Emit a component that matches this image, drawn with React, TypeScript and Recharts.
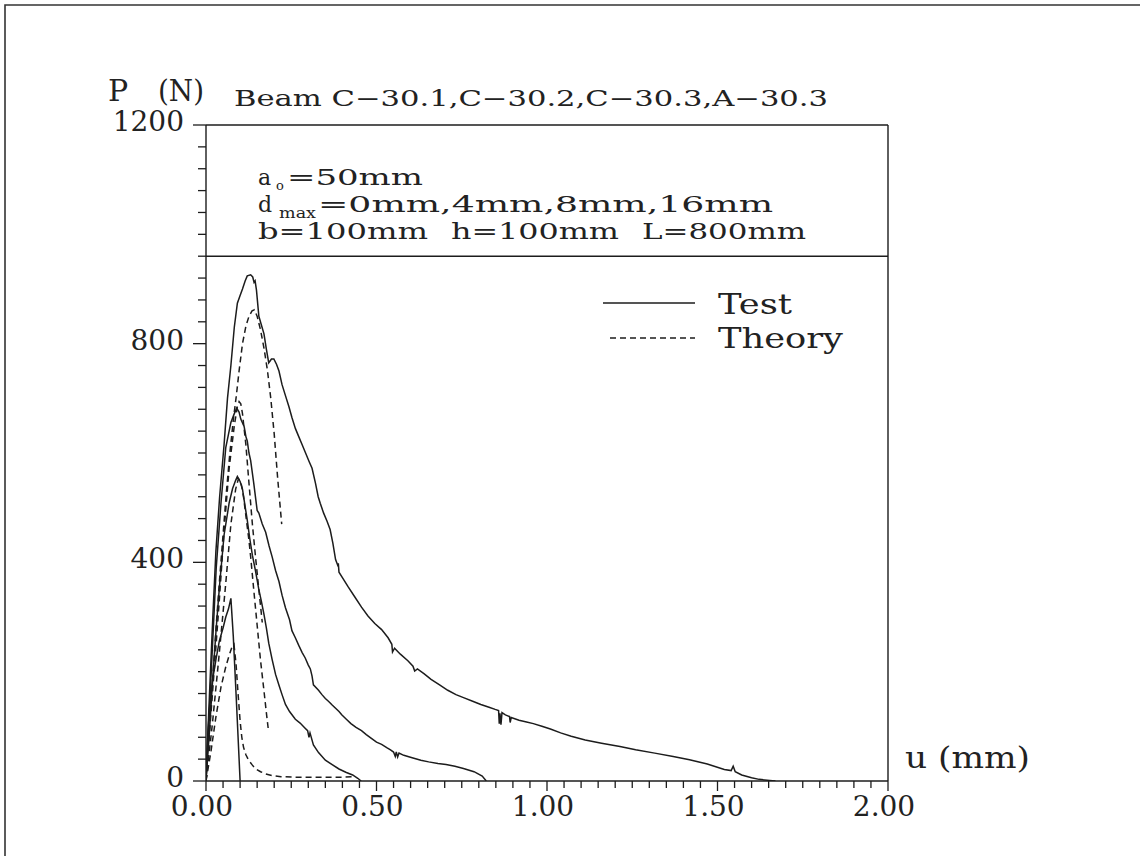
import React from 'react';
import { LineChart, Line, XAxis, YAxis, ReferenceLine } from 'recharts';

// load P (N) against crack mouth displacement u (mm), pairs of [u, P]
const testD16: [number, number][] = [
  [0, 0], [0.005, 80], [0.01, 155], [0.02, 300], [0.029, 420], [0.04, 520], [0.053, 615], [0.063, 700],
  [0.073, 760], [0.083, 830], [0.092, 874], [0.1, 888], [0.107, 900], [0.115, 915], [0.121, 924], [0.131, 926],
  [0.137, 922], [0.141, 912], [0.144, 915], [0.148, 898], [0.155, 850], [0.162, 835], [0.17, 818], [0.177, 790],
  [0.184, 765], [0.192, 772], [0.199, 772], [0.207, 762], [0.214, 750], [0.223, 725], [0.233, 705], [0.243, 685],
  [0.252, 665], [0.262, 645], [0.272, 630], [0.282, 615], [0.292, 600], [0.302, 585], [0.311, 572], [0.321, 545],
  [0.329, 520], [0.335, 508], [0.345, 490], [0.355, 475], [0.364, 460], [0.372, 435], [0.38, 405], [0.386, 395],
  [0.388, 398], [0.39, 382], [0.4, 372], [0.417, 355], [0.436, 337], [0.456, 318], [0.475, 302], [0.495, 288],
  [0.515, 277], [0.534, 262], [0.545, 250], [0.547, 236], [0.553, 243], [0.57, 232], [0.592, 220], [0.607, 210],
  [0.612, 201], [0.62, 205], [0.64, 196], [0.66, 186], [0.685, 176], [0.709, 166], [0.733, 158], [0.757, 152],
  [0.782, 146], [0.806, 140], [0.83, 135], [0.848, 131], [0.858, 129], [0.86, 105], [0.862, 124], [0.865, 103],
  [0.868, 125], [0.878, 121], [0.89, 118], [0.892, 107], [0.895, 116], [0.918, 111], [0.94, 108], [0.96, 105],
  [0.985, 100], [1.01, 95], [1.04, 88], [1.071, 82], [1.112, 75], [1.16, 69], [1.214, 63], [1.26, 57],
  [1.316, 51], [1.37, 45], [1.418, 39], [1.47, 31], [1.52, 21], [1.54, 19], [1.546, 27], [1.552, 17],
  [1.571, 11], [1.6, 6], [1.622, 3], [1.653, 1], [1.67, 0],
];

const testD8: [number, number][] = [
  [0, 0], [0.01, 130], [0.02, 260], [0.03, 390], [0.044, 509], [0.058, 610], [0.073, 656], [0.083, 672],
  [0.09, 682], [0.097, 675], [0.102, 662], [0.112, 648], [0.117, 630], [0.121, 622], [0.126, 600], [0.131, 586],
  [0.14, 545], [0.15, 495], [0.155, 490], [0.165, 470], [0.175, 455], [0.185, 430], [0.194, 410], [0.204, 385],
  [0.214, 365], [0.223, 340], [0.233, 317], [0.245, 295], [0.252, 275], [0.262, 262], [0.272, 248], [0.282, 235],
  [0.291, 225], [0.3, 212], [0.306, 205], [0.311, 192], [0.315, 176], [0.33, 166], [0.34, 158], [0.35, 151],
  [0.359, 146], [0.37, 139], [0.38, 133], [0.39, 127], [0.398, 121], [0.41, 114], [0.425, 105], [0.44, 98],
  [0.456, 92], [0.47, 85], [0.485, 78], [0.5, 71], [0.515, 67], [0.53, 61], [0.541, 57], [0.55, 53],
  [0.555, 45], [0.558, 53], [0.562, 44], [0.566, 51], [0.58, 47], [0.602, 43], [0.63, 38], [0.653, 35],
  [0.68, 32], [0.704, 30], [0.73, 27], [0.755, 23], [0.786, 17], [0.81, 9], [0.822, 0],
];

const testD4: [number, number][] = [
  [0, 0], [0.01, 90], [0.02, 190], [0.03, 280], [0.04, 360], [0.053, 450], [0.068, 509], [0.078, 535],
  [0.087, 550], [0.092, 557], [0.1, 548], [0.107, 534], [0.114, 505], [0.121, 477], [0.128, 445], [0.136, 413],
  [0.145, 385], [0.155, 350], [0.162, 330], [0.17, 305], [0.177, 280], [0.184, 252], [0.194, 222], [0.204, 195],
  [0.214, 175], [0.223, 158], [0.233, 140], [0.245, 127], [0.262, 113], [0.276, 106], [0.29, 97], [0.298, 92],
  [0.302, 80], [0.305, 88], [0.315, 66], [0.33, 52], [0.35, 38], [0.37, 30], [0.39, 22], [0.41, 16],
  [0.43, 11], [0.445, 5], [0.455, 0],
];

const testD0: [number, number][] = [
  [0, 0], [0.005, 80], [0.01, 130], [0.019, 184], [0.03, 225], [0.039, 256], [0.05, 280], [0.058, 300],
  [0.066, 315], [0.073, 334], [0.08, 265], [0.09, 135], [0.1, 0],
];

const theoryD16: [number, number][] = [
  [0, 0], [0.01, 95], [0.02, 190], [0.03, 285], [0.04, 370], [0.05, 450], [0.06, 530], [0.07, 600],
  [0.08, 660], [0.089, 705], [0.097, 750], [0.107, 800], [0.117, 832], [0.126, 850], [0.135, 860], [0.142, 862],
  [0.15, 850], [0.16, 825], [0.17, 792], [0.18, 752], [0.19, 700], [0.2, 635], [0.21, 555], [0.222, 470],
];

const theoryD8: [number, number][] = [
  [0, 0], [0.01, 86], [0.024, 202], [0.039, 330], [0.053, 458], [0.068, 573], [0.083, 650], [0.092, 685],
  [0.097, 694], [0.102, 690], [0.107, 672], [0.117, 615], [0.126, 545], [0.136, 470], [0.146, 405], [0.155, 350],
  [0.165, 290],
];

const theoryD4: [number, number][] = [
  [0, 0], [0.019, 106], [0.039, 234], [0.058, 362], [0.073, 470], [0.087, 534], [0.095, 553], [0.102, 548],
  [0.11, 520], [0.118, 480], [0.126, 440], [0.131, 410], [0.14, 350], [0.15, 285], [0.16, 220], [0.17, 165],
  [0.177, 125], [0.183, 93],
];

const theoryD0: [number, number][] = [
  [0, 0], [0.015, 56], [0.029, 117], [0.044, 172], [0.058, 209], [0.068, 230], [0.076, 245], [0.082, 250],
  [0.088, 215], [0.094, 160], [0.1, 110], [0.105, 80], [0.11, 62], [0.117, 48], [0.125, 38], [0.136, 29],
  [0.146, 22], [0.16, 17], [0.175, 13], [0.194, 10], [0.22, 8], [0.26, 7], [0.3, 7], [0.35, 7],
  [0.4, 7], [0.43, 8],
];

const X_LABELS = [0, 0.5, 1, 1.5, 2];
const Y_LABELS = [0, 400, 800, 1200];
const X_TICKS = Array.from({ length: 41 }, (_, i) => Math.round(i * 5) / 100);
const Y_TICKS = Array.from({ length: 31 }, (_, i) => i * 40);

const INK = '#1c1c1c';
const FONT = "'DejaVu Serif', serif";

const toRows = (pts: [number, number][]) => pts.map(([u, p]) => ({ u, p }));

const series = [
  { key: 'testD16', pts: testD16, dashed: false },
  { key: 'testD8', pts: testD8, dashed: false },
  { key: 'testD4', pts: testD4, dashed: false },
  { key: 'testD0', pts: testD0, dashed: false },
  { key: 'theoryD16', pts: theoryD16, dashed: true },
  { key: 'theoryD8', pts: theoryD8, dashed: true },
  { key: 'theoryD4', pts: theoryD4, dashed: true },
  { key: 'theoryD0', pts: theoryD0, dashed: true },
];

const isLabel = (v: number, labels: number[]) => labels.some((l) => Math.abs(l - v) < 1e-6);

const XTick = (props: any) => {
  const { x, y, payload } = props;
  const v = payload.value as number;
  const major = isLabel(v, X_LABELS);
  return (
    <g>
      <line x1={x} y1={y} x2={x} y2={y + (major ? 10 : 7)} stroke={INK} strokeWidth={1.3} />
      {major && (
        <text x={x - 4} y={y + 35} textAnchor="middle" fontFamily={FONT} fontSize={28} fill="#222">
          {v.toFixed(2)}
        </text>
      )}
    </g>
  );
};

const YTick = (props: any) => {
  const { x, y, payload } = props;
  const v = payload.value as number;
  const major = isLabel(v, Y_LABELS);
  return (
    <g>
      <line x1={x - (major ? 13 : 8)} y1={y} x2={x} y2={y} stroke={INK} strokeWidth={1.3} />
      {major && (
        <text x={x - 22} y={y + 6} textAnchor="end" fontFamily={FONT} fontSize={28} fill="#222">
          {v}
        </text>
      )}
    </g>
  );
};

const txt = { fontFamily: FONT, fill: '#222', lengthAdjust: 'spacingAndGlyphs' as const };

export default function App() {
  return (
    <div style={{ position: 'absolute', left: 0, top: 0, width: 1140, height: 856, background: '#fff' }}>
      <LineChart width={1140} height={856} margin={{ top: 125, right: 252, bottom: 35, left: 146 }}>
        <XAxis
          type="number" dataKey="u" domain={[0, 2]} ticks={X_TICKS} interval={0} allowDataOverflow
          height={40} tickSize={0} tickMargin={0} tick={<XTick />} axisLine={{ stroke: INK, strokeWidth: 1.4 }}
        />
        <YAxis
          type="number" domain={[0, 1200]} ticks={Y_TICKS} interval={0} allowDataOverflow
          width={60} tickSize={0} tickMargin={0} tick={<YTick />} axisLine={{ stroke: INK, strokeWidth: 1.4 }}
        />
        <ReferenceLine x={2} stroke={INK} strokeWidth={1.4} />
        <ReferenceLine y={1200} stroke={INK} strokeWidth={1.4} />
        <ReferenceLine y={960} stroke={INK} strokeWidth={1.4} />
        {series.map((s) => (
          <Line
            key={s.key} data={toRows(s.pts)} dataKey="p" type="linear" dot={false} activeDot={false}
            stroke={INK} strokeWidth={1.5} strokeDasharray={s.dashed ? '6 4' : undefined}
            isAnimationActive={false}
          />
        ))}
      </LineChart>

      <svg width={1140} height={856} style={{ position: 'absolute', left: 0, top: 0, pointerEvents: 'none' }}>
        {/* page frame */}
        <path d="M5,856 L5,5 L1140,5" fill="none" stroke="#333" strokeWidth={1.6} />

        <text x={108} y={101} fontSize={30} {...txt}>P</text>
        <text x={158} y={101} fontSize={30} textLength={46} {...txt}>(N)</text>
        <text x={234} y={106} fontSize={22} textLength={594} {...txt}>Beam C−30.1,C−30.2,C−30.3,A−30.3</text>

        {/* specimen notes */}
        <text x={258} y={185} fontSize={22} {...txt}>a</text>
        <text x={276} y={190} fontSize={13} {...txt}>o</text>
        <text x={287} y={185} fontSize={22} textLength={136} {...txt}>=50mm</text>

        <text x={258} y={212} fontSize={22} {...txt}>d</text>
        <text x={279} y={218} fontSize={14} textLength={37} {...txt}>max</text>
        <text x={318} y={212} fontSize={22} textLength={455} {...txt}>=0mm,4mm,8mm,16mm</text>

        <text x={258} y={239} fontSize={22} textLength={170} {...txt}>b=100mm</text>
        <text x={451} y={239} fontSize={22} textLength={168} {...txt}>h=100mm</text>
        <text x={642} y={239} fontSize={22} textLength={164} {...txt}>L=800mm</text>

        {/* legend */}
        <line x1={603} y1={303} x2={695} y2={303} stroke={INK} strokeWidth={1.5} />
        <text x={718} y={314} fontSize={28} textLength={74} {...txt}>Test</text>
        <line x1={610} y1={338} x2={695} y2={338} stroke={INK} strokeWidth={1.5} strokeDasharray="6 4" />
        <text x={718} y={348} fontSize={28} textLength={125} {...txt}>Theory</text>

        <text x={905} y={768} fontSize={30} textLength={125} {...txt}>u (mm)</text>
      </svg>
    </div>
  );
}
